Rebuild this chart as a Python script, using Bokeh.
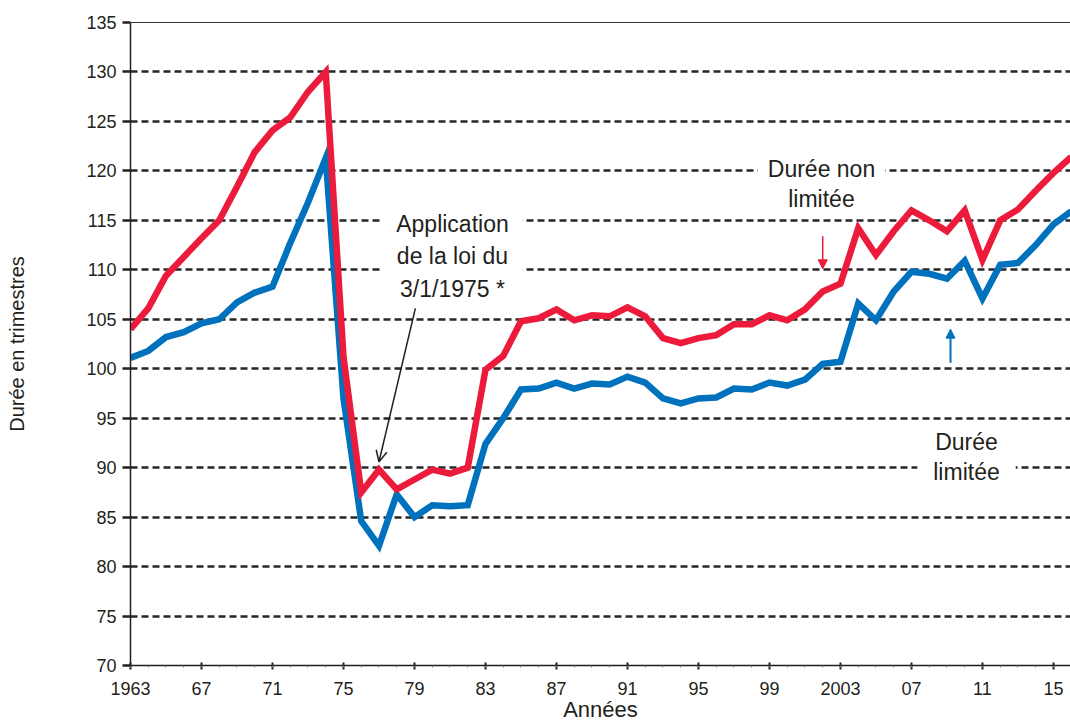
from bokeh.plotting import figure
from bokeh.models import (ColumnDataSource, FixedTicker, LinearAxis, Label, Arrow,
                          NormalHead, OpenHead, Range1d)
from bokeh.embed import file_html
from bokeh.resources import INLINE

# ---------------- data ----------------
years = list(range(1963, 2017))

duree_non_limitee = [
    104.0, 106.1, 109.4, 111.3, 113.2, 115.0, 118.4, 121.9, 124.1, 125.4,   # 1963-1972
    128.0, 130.0, 101.2, 87.5, 89.8, 87.8, 88.8, 89.8, 89.4, 90.0,          # 1973-1982
    99.9, 101.3, 104.8, 105.1, 106.0, 104.9, 105.4, 105.3, 106.2, 105.3,    # 1983-1992
    103.1, 102.6, 103.1, 103.4, 104.5, 104.5, 105.4, 104.9, 106.0, 107.8,   # 1993-2002
    108.6, 114.2, 111.5, 113.9, 116.0, 115.0, 113.9, 116.0, 111.0, 115.0,   # 2003-2012
    116.1, 118.0, 119.8, 121.4,                                             # 2013-2016
]

duree_limitee = [
    101.1, 101.8, 103.2, 103.7, 104.6, 105.0, 106.7, 107.7, 108.3, 112.7,   # 1963-1972
    116.8, 121.3, 97.0, 84.6, 82.1, 87.3, 85.0, 86.2, 86.1, 86.2,           # 1973-1982
    92.4, 95.0, 97.9, 98.0, 98.6, 98.0, 98.5, 98.4, 99.2, 98.6,             # 1983-1992
    97.0, 96.5, 97.0, 97.1, 98.0, 97.9, 98.6, 98.3, 98.9, 100.5,            # 1993-2002
    100.7, 106.6, 104.9, 107.8, 109.8, 109.6, 109.1, 110.9, 107.1, 110.5,   # 2003-2012
    110.7, 112.5, 114.6, 115.9,                                             # 2013-2016
]

x_tick_years = [1963, 1967, 1971, 1975, 1979, 1983, 1987, 1991, 1995, 1999, 2003, 2007, 2011, 2015]
x_tick_labels = ["1963", "67", "71", "75", "79", "83", "87", "91", "95", "99", "2003", "07", "11", "15"]
y_ticks = list(range(70, 136, 5))

# ---------------- style ----------------
FONT = "Liberation Sans"
TXT = "#231f20"
RED = "#EC1B3C"
BLUE = "#0071BC"

source = ColumnDataSource(dict(year=years, non_limitee=duree_non_limitee, limitee=duree_limitee))

p = figure(width=1070, height=726, output_backend="svg", toolbar_location=None,
           x_range=Range1d(1963, 2015.96), y_range=Range1d(70, 135),
           min_border_left=130, min_border_right=0, min_border_top=22, min_border_bottom=61,
           background_fill_color="white", border_fill_color="white")
p.outline_line_color = None
p.xgrid.visible = False

g = p.ygrid[0]
g.ticker = FixedTicker(ticks=y_ticks[1:-1])
g.grid_line_color = "#262626"
g.grid_line_width = 2.6
g.grid_line_dash = "7 4"

# y axis
ya = p.yaxis[0]
ya.ticker = FixedTicker(ticks=y_ticks)
ya.major_tick_out = 8
ya.major_tick_in = 0
ya.major_tick_line_width = 2.5
ya.major_tick_line_color = TXT
ya.minor_tick_line_color = None
ya.axis_line_width = 1.5
ya.axis_line_color = TXT
ya.major_label_standoff = 6
ya.major_label_text_font = FONT
ya.major_label_text_font_size = "18px"
ya.major_label_text_color = TXT
ya.axis_label = "Durée en trimestres"
ya.axis_label_text_font = FONT
ya.axis_label_text_font_size = "20px"
ya.axis_label_text_font_style = "normal"
ya.axis_label_text_color = TXT
ya.axis_label_standoff = 55

# x axis
xa = p.xaxis[0]
xa.ticker = FixedTicker(ticks=x_tick_years, minor_ticks=years)
xa.major_label_overrides = {y: l for y, l in zip(x_tick_years, x_tick_labels)}
xa.major_tick_in = 3
xa.major_tick_out = 4
xa.major_tick_line_width = 2
xa.major_tick_line_color = TXT
xa.minor_tick_in = 0
xa.minor_tick_out = 2
xa.minor_tick_line_color = "#777777"
xa.axis_line_width = 1.5
xa.axis_line_color = TXT
xa.major_label_standoff = 12
xa.major_label_text_font = FONT
xa.major_label_text_font_size = "18px"
xa.major_label_text_color = TXT
xa.axis_label = "Années"
xa.axis_label_text_font = FONT
xa.axis_label_text_font_size = "22px"
xa.axis_label_text_font_style = "normal"
xa.axis_label_text_color = TXT
xa.axis_label_standoff = -1

# top border line
top = LinearAxis(ticker=FixedTicker(ticks=[]), axis_line_width=1.2, axis_line_color="#333333",
                 major_tick_line_color=None, minor_tick_line_color=None,
                 major_label_text_font_size="0px", major_label_standoff=0)
p.add_layout(top, "above")

# series
p.line("year", "limitee", source=source, line_width=6.5, line_color=BLUE, line_join="miter")
p.line("year", "non_limitee", source=source, line_width=6.5, line_color=RED, line_join="miter")

# annotations
def note(x, y, text, pad_x, lh):
    return Label(x=x, y=y, text=text, text_align="center", text_baseline="middle",
                 text_font=FONT, text_font_size="23px", text_color=TXT,
                 text_line_height=lh, background_fill_color="white",
                 padding=dict(left=pad_x, right=pad_x, top=2, bottom=2))

p.add_layout(note(1981.14, 111.35, "Application\nde la loi du\n3/1/1975 *", 14, 1.25))
p.add_layout(note(2001.93, 118.68, "Durée non\nlimitée", 10, 1.18))
p.add_layout(note(2010.1, 91.08, "Durée\nlimitée", 16, 1.18))

p.add_layout(Arrow(end=OpenHead(size=11, line_width=1.5, line_color=TXT),
                   x_start=1979.05, y_start=106.1, x_end=1977.0, y_end=90.6,
                   line_width=1.5, line_color=TXT))
p.add_layout(Arrow(end=NormalHead(size=9, fill_color=RED, line_color=RED, line_width=1),
                   x_start=2002.0, y_start=113.4, x_end=2002.0, y_end=110.1,
                   line_width=1.5, line_color=RED))
p.add_layout(Arrow(end=NormalHead(size=9, fill_color=BLUE, line_color=BLUE, line_width=1),
                   x_start=2009.2, y_start=100.6, x_end=2009.2, y_end=104.0,
                   line_width=2, line_color=BLUE))

open("out.html", "w").write(file_html(p, INLINE))
